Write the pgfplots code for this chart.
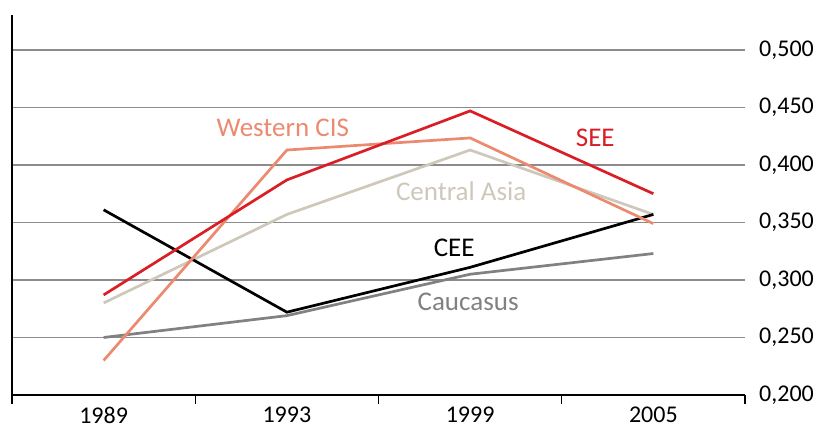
\documentclass[border=0pt]{standalone}
\usepackage{pgfplots}
\pgfplotsset{compat=1.18}
\usepackage{fontspec}
\setmainfont{Carlito}
\definecolor{seered}{RGB}{218,30,38}
\definecolor{wcis}{RGB}{236,138,112}
\definecolor{casia}{RGB}{205,200,186}
\definecolor{cauc}{RGB}{128,128,133}
\begin{document}
\fontsize{27}{31}\selectfont
\begin{tikzpicture}[x=1pt,y=1pt]
\begin{axis}[
  scale only axis,
  width=733pt, height=380pt,
  xmin=-0.5, xmax=3.5,
  ymin=0.2, ymax=0.5304,
  axis line style={draw=none},
  xtick={0,1,2,3},
  xticklabels={1989,1993,1999,2005},
  minor xtick={-0.5,0.5,1.5,2.5,3.5},
  xtick pos=bottom,
  ytick={0.2,0.25,0.3,0.35,0.4,0.45,0.5},
  yticklabels={{0,200},{0,250},{0,300},{0,350},{0,400},{0,450},{0,500}},
  ytick pos=right,
  yticklabel pos=right,
  tick align=outside,
  major tick length=0pt,
  minor tick length=9pt,
  minor tick style={black, line width=1.2pt},
  ymajorgrids,
  major grid style={draw=gray!90, line width=1.3pt},
  ticklabel style={font=\fontsize{24}{28}\selectfont},
  yticklabel style={inner sep=1pt, xshift=13pt},
  xticklabel style={yshift=-3pt},
  clip=false,
  every axis plot/.append style={line width=2.7pt, mark=none},
]
\draw[black, line width=2pt] (rel axis cs:0,1) -- (rel axis cs:0,0) -- (rel axis cs:1,0);
% Caucasus
\addplot[cauc] coordinates {(0,0.250) (1,0.269) (2,0.305) (3,0.323)};
% Central Asia
\addplot[casia] coordinates {(0,0.280) (1,0.357) (2,0.413) (3,0.357)};
% CEE
\addplot[black] coordinates {(0,0.361) (1,0.272) (2,0.311) (3,0.357)};
% Western CIS
\addplot[wcis] coordinates {(0,0.230) (1,0.413) (2,0.4235) (3,0.349)};
% SEE
\addplot[seered] coordinates {(0,0.287) (1,0.387) (2,0.447) (3,0.375)};
\node[text=wcis] at (axis cs:0.978,0.432) {Western CIS};
\node[text=seered] at (axis cs:2.683,0.424) {SEE};
\node[text=casia] at (axis cs:1.951,0.377) {Central Asia};
\node[text=black] at (axis cs:1.913,0.328) {CEE};
\node[text=cauc] at (axis cs:1.989,0.281) {Caucasus};
\end{axis}
\path (-12pt,-28pt) rectangle (807pt,395pt);
\end{tikzpicture}
\end{document}
